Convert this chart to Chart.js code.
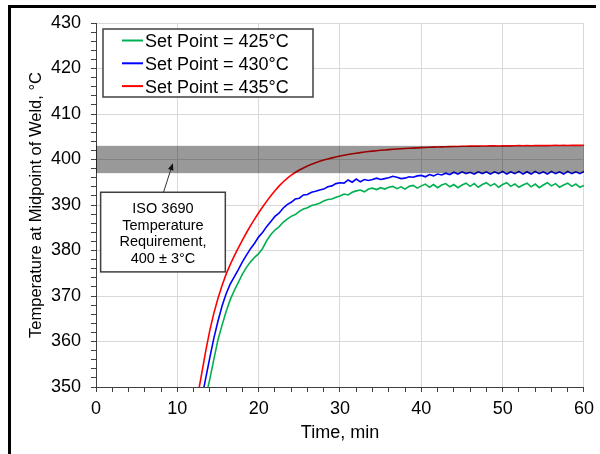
<!DOCTYPE html>
<html>
<head>
<meta charset="utf-8">
<script src="https://cdn.jsdelivr.net/npm/chart.js@4.4.1/dist/chart.umd.min.js"></script>
<style>
    html, body { margin: 0; padding: 0; background: #fff; }
    #wrap { width: 600px; height: 454px; position: relative; }
</style>
</head>
<body>
<div id="wrap"><canvas id="weldChart"></canvas></div>
<script>
// ==================== Data ====================
const timeMin = [
    12, 12.5, 13, 13.5, 14, 14.5, 15, 15.5, 16, 16.5,
    17, 17.5, 18, 18.5, 19, 19.5, 20, 20.5, 21, 21.5,
    22, 22.5, 23, 23.5, 24, 24.5, 25, 25.5, 26, 26.5,
    27, 27.5, 28, 28.5, 29, 29.5, 30, 30.5, 31, 31.5,
    32, 32.5, 33, 33.5, 34, 34.5, 35, 35.5, 36, 36.5,
    37, 37.5, 38, 38.5, 39, 39.5, 40, 40.5, 41, 41.5,
    42, 42.5, 43, 43.5, 44, 44.5, 45, 45.5, 46, 46.5,
    47, 47.5, 48, 48.5, 49, 49.5, 50, 50.5, 51, 51.5,
    52, 52.5, 53, 53.5, 54, 54.5, 55, 55.5, 56, 56.5,
    57, 57.5, 58, 58.5, 59, 59.5, 60
];

const temp425 = [
    336, 340, 344, 347.8, 351.8, 356.2, 360.4, 363.6, 366.6, 369.2,
    371.2, 373, 374.8, 376.3, 377.5, 378.5, 379.3, 380.5, 382.2, 383.5,
    384.5, 385.2, 386.2, 386.9, 387.5, 387.9, 388.6, 389.1, 389.4, 389.9,
    390.1, 390.4, 390.9, 391.2, 391.3, 391.7, 392.0, 392.4, 392.2, 392.8,
    393.1, 393.3, 392.9, 393.5, 393.7, 393.4, 393.8, 393.5, 393.9, 394.1,
    393.6, 394.0, 393.5, 394.1, 394.3, 393.7, 394.2, 394.6, 393.9, 394.5,
    393.8, 394.4, 394.7, 394.0, 394.5, 393.8, 394.4, 394.8, 394.1, 394.7,
    393.9, 394.5, 394.9, 394.2, 394.7, 393.9, 394.5, 394.9, 394.1, 394.6,
    393.9, 394.4, 394.8, 394.0, 394.6, 393.8, 394.4, 394.9, 394.2, 394.7,
    393.9, 394.4, 394.8, 394.1, 394.6, 393.9, 394.3
];

const temp430 = [
    339, 343.5, 347.5, 352, 356.5, 360.8, 364.5, 367.8, 370.5, 372.6,
    374.2, 375.8, 377.5, 379, 380.4, 381.6, 383, 384, 385.3, 386.4,
    387.5, 388.2, 389.3, 390.1, 390.6, 391.3, 391.5, 392.2, 392.3, 392.8,
    393.0, 393.3, 393.5, 394.0, 394.2, 394.7, 394.9, 394.8, 395.5, 395.0,
    395.7, 395.1, 395.6, 395.4, 395.6, 395.9, 395.6, 395.8, 396.0, 396.3,
    396.1, 395.8, 395.9, 396.2, 396.1, 396.4, 396.5, 396.2, 396.7, 396.4,
    396.8, 396.6, 397.0, 396.7, 397.2, 396.8, 397.3, 396.9, 397.2, 396.8,
    397.3, 396.9, 397.3, 396.8, 397.3, 396.9, 397.4, 396.8, 397.3, 396.9,
    397.4, 396.8, 397.3, 396.8, 397.4, 396.9, 397.3, 396.8, 397.4, 396.9,
    397.3, 396.8, 397.4, 396.9, 397.3, 396.9, 397.4
];

const temp435 = [
    343, 348, 353, 358, 362.5, 366.3, 369.5, 372.3, 374.8, 376.9,
    378.8, 380.6, 382.3, 383.9, 385.45, 386.9, 388.3, 389.6, 390.85, 392.05,
    393.15, 394.15, 395.05, 395.85, 396.55, 397.15, 397.68, 398.15, 398.57, 398.95,
    399.29, 399.6, 399.88, 400.13, 400.36, 400.57, 400.76, 400.94, 401.1, 401.25,
    401.39, 401.52, 401.64, 401.75, 401.85, 401.94, 402.02, 402.1, 402.17, 402.24,
    402.3, 402.36, 402.41, 402.46, 402.51, 402.56, 402.6, 402.64, 402.68, 402.72,
    402.75, 402.78, 402.8, 402.82, 402.85, 402.87, 402.9, 402.9, 402.93, 402.95,
    402.95, 402.97, 402.97, 403.0, 403.0, 402.98, 403.0, 403.03, 403.0, 403.02,
    403.05, 403.02, 403.05, 403.03, 403.05, 403.08, 403.05, 403.05, 403.07, 403.1,
    403.07, 403.1, 403.08, 403.1, 403.12, 403.1, 403.12
];

const seriesLabels = ['Set Point = 425°C', 'Set Point = 430°C', 'Set Point = 435°C'];
const seriesColors = ['#00b050', '#0000ff', '#ff0000'];

// ISO 3690 band, 400 ± 3°C
const bandLow = 397;
const bandHigh = 403;
const noteLines = ['ISO 3690', 'Temperature', 'Requirement,', '400 ± 3°C'];

const FONT = "'Liberation Sans', Arial, sans-serif";

// ==================== Overlay Plugin ====================
const overlayPlugin = {
    id: 'overlays',
    beforeDraw(chart) {
        const ctx = chart.ctx;
        ctx.save();
        ctx.fillStyle = '#000';
        ctx.fillRect(8, 5, 588, 3);
        ctx.fillRect(8, 5, 3, 449);
        ctx.restore();
    },
    afterDatasetsDraw(chart) {
        // grey requirement band, drawn over the lines
        const { ctx, chartArea: a, scales: { y } } = chart;
        const yTop = y.getPixelForValue(bandHigh);
        const yBot = y.getPixelForValue(bandLow);
        ctx.save();
        ctx.fillStyle = 'rgba(0, 0, 0, 0.4)';
        ctx.fillRect(a.left, yTop, a.right - a.left, yBot - yTop);
        ctx.restore();
    },
    afterDraw(chart) {
        const { ctx, chartArea: a, scales: { x, y } } = chart;
        ctx.save();

        // legend box
        const lx = a.left + 7, ly = a.top + 6, lw = 210, lh = 68;
        ctx.fillStyle = '#fff';
        ctx.fillRect(lx, ly, lw, lh);
        ctx.strokeStyle = '#404040';
        ctx.lineWidth = 1.5;
        ctx.strokeRect(lx, ly, lw, lh);
        ctx.font = '18px ' + FONT;
        ctx.textBaseline = 'alphabetic';
        ctx.textAlign = 'left';
        chart.data.datasets.forEach((ds, i) => {
            const cy = ly + 11.5 + i * 22.8;
            ctx.strokeStyle = ds.borderColor;
            ctx.lineWidth = 2;
            ctx.beginPath();
            ctx.moveTo(lx + 19, cy);
            ctx.lineTo(lx + 40, cy);
            ctx.stroke();
            ctx.fillStyle = '#000';
            ctx.fillText(ds.label, lx + 42, cy + 6.5);
        });

        // annotation box
        const bx1 = x.getPixelForValue(0.57), bx2 = x.getPixelForValue(15.9);
        const by1 = y.getPixelForValue(392.8), by2 = y.getPixelForValue(375.3);
        ctx.fillStyle = '#fff';
        ctx.fillRect(bx1, by1, bx2 - bx1, by2 - by1);
        ctx.strokeStyle = '#404040';
        ctx.lineWidth = 1.5;
        ctx.strokeRect(bx1, by1, bx2 - bx1, by2 - by1);
        ctx.fillStyle = '#000';
        ctx.font = '14.5px ' + FONT;
        ctx.textAlign = 'center';
        noteLines.forEach((t, i) => {
            ctx.fillText(t, (bx1 + bx2) / 2, by1 + 21.2 + i * 16.5);
        });

        // arrow to the band
        const ax1 = x.getPixelForValue(8.3), ay1 = by1;
        const ax2 = x.getPixelForValue(9.45), ay2 = y.getPixelForValue(399.2);
        const ang = Math.atan2(ay2 - ay1, ax2 - ax1);
        ctx.strokeStyle = '#333';
        ctx.lineWidth = 1;
        ctx.beginPath();
        ctx.moveTo(ax1, ay1);
        ctx.lineTo(ax2 - 6 * Math.cos(ang), ay2 - 6 * Math.sin(ang));
        ctx.stroke();
        ctx.fillStyle = '#111';
        ctx.beginPath();
        ctx.moveTo(ax2, ay2);
        ctx.lineTo(ax2 - 7 * Math.cos(ang) + 2.8 * Math.sin(ang), ay2 - 7 * Math.sin(ang) - 2.8 * Math.cos(ang));
        ctx.lineTo(ax2 - 7 * Math.cos(ang) - 2.8 * Math.sin(ang), ay2 - 7 * Math.sin(ang) + 2.8 * Math.cos(ang));
        ctx.closePath();
        ctx.fill();

        ctx.restore();
    }
};

// ==================== Chart ====================
function makeSeries(values, i) {
    return {
        label: seriesLabels[i],
        data: timeMin.map((t, k) => ({ x: t, y: values[k] })),
        borderColor: seriesColors[i],
        borderWidth: 1.6,
        pointRadius: 0,
        tension: 0,
        clip: 0
    };
}

const majorOnly = (edge) => (c) => {
    if (!c.tick) return 'transparent';
    const v = c.tick.value;
    return (v % 10 === 0 && v !== edge) ? '#d9d9d9' : 'transparent';
};

const ctx = document.getElementById('weldChart').getContext('2d');
const weldChart = new Chart(ctx, {
    type: 'line',
    data: {
        datasets: [
            makeSeries(temp425, 0),
            makeSeries(temp430, 1),
            makeSeries(temp435, 2)
        ]
    },
    options: {
        responsive: true,
        maintainAspectRatio: false,
        animation: false,
        layout: { padding: { top: 23, right: 12, bottom: 0, left: 0 } },
        plugins: {
            legend: { display: false },
            tooltip: { enabled: false }
        },
        scales: {
            x: {
                type: 'linear',
                min: 0,
                max: 60,
                ticks: {
                    stepSize: 2,
                    autoSkip: false,
                    maxRotation: 0,
                    padding: 6,
                    color: '#000',
                    font: { family: FONT, size: 18 },
                    callback: v => (v % 10 === 0 ? v : '')
                },
                grid: {
                    color: majorOnly(0),
                    tickColor: '#404040',
                    tickLength: 5,
                    lineWidth: 1
                },
                border: { color: '#404040', width: 1 },
                title: {
                    display: true,
                    text: 'Time, min',
                    color: '#000',
                    font: { family: FONT, size: 18 },
                    padding: { top: 0, bottom: 10 }
                },
                afterFit: s => { s.height = 67; }
            },
            y: {
                min: 350,
                max: 430,
                ticks: {
                    stepSize: 2,
                    autoSkip: false,
                    padding: 10,
                    color: '#000',
                    font: { family: FONT, size: 18 },
                    callback: v => (v % 10 === 0 ? v : '')
                },
                grid: {
                    color: majorOnly(350),
                    tickColor: '#404040',
                    tickLength: 5,
                    lineWidth: 1
                },
                border: { color: '#404040', width: 1 },
                title: {
                    display: true,
                    text: 'Temperature at Midpoint of Weld, °C',
                    color: '#000',
                    font: { family: FONT, size: 16.5 },
                    padding: { top: 27, bottom: 0 }
                },
                afterFit: s => { s.width = 96; }
            }
        }
    },
    plugins: [overlayPlugin]
});
</script>
</body>
</html>
